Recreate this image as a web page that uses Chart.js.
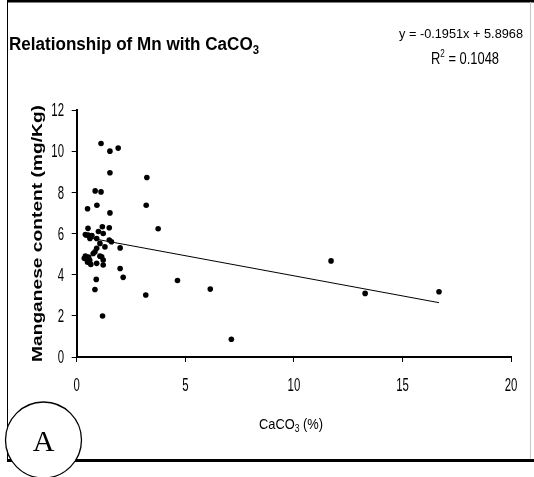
<!DOCTYPE html>
<html>
<head>
<meta charset="utf-8">
<script src="https://cdn.jsdelivr.net/npm/chart.js@4/dist/chart.umd.min.js"></script>
<style>
  html, body { margin: 0; padding: 0; background: #fff; }
  #wrap { position: relative; width: 534px; height: 477px; }
</style>
</head>
<body>
<div id="wrap"><canvas id="c"></canvas></div>
<script>
// ---- data ----
const mnX = [1.12, 1.53, 1.91, 1.53, 3.23, 0.85, 1.12, 0.50, 0.93, 3.20, 1.53, 3.75,
             4.64, 6.15, 7.12, 11.71, 13.28, 16.68, 3.18, 1.19, 0.84, 0.90, 2.14, 2.00, 2.00,
             0.52, 1.18, 1.50, 0.53, 0.61, 0.92, 1.22, 1.07, 1.30, 1.50, 1.60, 0.84, 0.76,
             0.92, 1.15, 1.22, 0.92, 1.07, 1.22, 0.40, 0.45, 0.50, 0.55, 0.60, 0.65, 0.35,
             0.40, 0.70, 1.00];
const mnY = [10.37, 10.00, 10.15, 8.95, 8.72, 8.07, 8.02, 7.20, 7.37, 7.37, 7.00, 6.23,
             3.72, 3.30, 0.86, 4.67, 3.09, 3.17, 3.01, 1.99, 3.28, 3.77, 3.87, 4.30, 5.30,
             6.25, 6.33, 6.28, 5.92, 5.76, 5.76, 6.00, 5.52, 5.35, 5.68, 5.60, 5.11, 5.03,
             5.28, 4.87, 4.71, 4.55, 4.90, 4.47, 4.90, 4.75, 4.60, 4.85, 4.70, 4.50, 4.80,
             5.95, 5.90, 6.10];
const trendX = [0.35, 16.68];
const trendY = [5.83, 2.64];
const xTicks = [0, 5, 10, 15, 20];
const yTicks = [0, 2, 4, 6, 8, 10, 12];
const titleMain = "Relationship of Mn with CaCO";
const titleSub = "3";
const eqLine1 = "y = -0.1951x + 5.8968";
const eqLine2a = "R";
const eqLine2sup = "2";
const eqLine2b = " = 0.1048";
const yTitle = "Manganese content (mg/Kg)";
const xTitleMain = "CaCO";
const xTitleSub = "3";
const xTitleRest = " (%)";
const panelLabel = "A";

const points = mnX.map((x, i) => ({ x: x, y: mnY[i] }));
const trend = trendX.map((x, i) => ({ x: x, y: trendY[i] }));

const SANS = '"Liberation Sans", Arial, sans-serif';

function fitText(ctx, parts, x, y, targetW, align) {
  let w = 0;
  parts.forEach(p => { ctx.font = p.font; p.w = ctx.measureText(p.t).width; w += p.w; });
  const s = targetW / w;
  ctx.save();
  let x0 = align === 'center' ? x - targetW / 2 : (align === 'right' ? x - targetW : x);
  ctx.translate(x0, y);
  ctx.scale(s, 1);
  let cx = 0;
  ctx.textAlign = 'left';
  ctx.textBaseline = 'alphabetic';
  parts.forEach(p => { ctx.font = p.font; ctx.fillText(p.t, cx, p.dy || 0); cx += p.w; });
  ctx.restore();
}

// narrow text drawn with a horizontal squeeze
function narrowText(ctx, t, x, y, align, squeeze) {
  ctx.save();
  ctx.font = '19px ' + SANS;
  const w = ctx.measureText(t).width * squeeze;
  let x0 = align === 'center' ? x - w / 2 : (align === 'right' ? x - w : x);
  ctx.translate(x0, y);
  ctx.scale(squeeze, 1);
  ctx.textAlign = 'left';
  ctx.textBaseline = 'middle';
  ctx.fillText(t, 0, 0);
  ctx.restore();
}

const decor = {
  id: 'decor',
  afterDraw(chart) {
    const ctx = chart.ctx;
    ctx.save();
    ctx.fillStyle = '#000';
    // tick labels, positioned by the chart's own scales
    const xs = chart.scales.x, ys = chart.scales.y;
    xs.ticks.forEach(t => narrowText(ctx, String(t.value), xs.getPixelForValue(t.value), 386, 'center', 0.6));
    ys.ticks.forEach(t => narrowText(ctx, String(t.value), 64, ys.getPixelForValue(t.value) + 1, 'right', 0.6));
    // frame
    ctx.strokeStyle = '#000';
    ctx.lineWidth = 2.5; ctx.beginPath(); ctx.moveTo(7, 1.2); ctx.lineTo(534, 1.2); ctx.stroke();
    ctx.lineWidth = 1; ctx.beginPath(); ctx.moveTo(7.5, 0); ctx.lineTo(7.5, 461); ctx.stroke();
    ctx.strokeStyle = '#c8c8c8'; ctx.beginPath(); ctx.moveTo(530.5, 2); ctx.lineTo(530.5, 459); ctx.stroke();
    ctx.strokeStyle = '#000'; ctx.lineWidth = 3; ctx.beginPath(); ctx.moveTo(7, 460.5); ctx.lineTo(534, 460.5); ctx.stroke();
    // title
    fitText(ctx, [{t: titleMain, font: 'bold 18px ' + SANS}, {t: titleSub, font: 'bold 12px ' + SANS, dy: 4}], 9, 50, 250, 'left');
    // equation
    fitText(ctx, [{t: eqLine1, font: '13px ' + SANS}], 461, 38, 124, 'center');
    fitText(ctx, [{t: eqLine2a, font: '16px ' + SANS}, {t: eqLine2sup, font: '10px ' + SANS, dy: -7}, {t: eqLine2b, font: '16px ' + SANS}], 465, 64, 68, 'center');
    // y title
    ctx.save();
    ctx.translate(42, 233.5);
    ctx.rotate(-Math.PI / 2);
    fitText(ctx, [{t: yTitle, font: 'bold 15px ' + SANS}], 0, 0, 257, 'center');
    ctx.restore();
    // x title
    fitText(ctx, [{t: xTitleMain, font: '15px ' + SANS}, {t: xTitleSub, font: '10px ' + SANS, dy: 3}, {t: xTitleRest, font: '15px ' + SANS}], 291, 429, 64, 'center');
    // panel label circle
    ctx.beginPath();
    ctx.arc(43.5, 440, 38, 0, Math.PI * 2);
    ctx.fillStyle = '#fff'; ctx.fill();
    ctx.strokeStyle = '#000'; ctx.lineWidth = 1.3; ctx.stroke();
    ctx.fillStyle = '#000';
    ctx.font = '30px "Liberation Serif", "Times New Roman", serif';
    ctx.textAlign = 'center'; ctx.textBaseline = 'alphabetic';
    ctx.fillText(panelLabel, 43.5, 451);
    ctx.restore();
  }
};

new Chart(document.getElementById('c'), {
  type: 'scatter',
  data: {
    datasets: [
      { label: 'Mn', data: points, backgroundColor: '#000', borderColor: '#000',
        pointRadius: 2.8, pointBorderWidth: 0, pointStyle: 'circle' },
      { label: 'Trend', type: 'line', data: trend, borderColor: '#000', borderWidth: 1,
        pointRadius: 0, fill: false, showLine: true }
    ]
  },
  options: {
    responsive: true,
    maintainAspectRatio: false,
    animation: false,
    events: [],
    layout: { padding: { left: 0, top: 110, right: 21.7, bottom: 0 } },
    plugins: { legend: { display: false }, tooltip: { enabled: false }, title: { display: false } },
    scales: {
      x: {
        type: 'linear', min: 0, max: 20,
        afterBuildTicks(axis) { axis.ticks = xTicks.map(v => ({ value: v })); },
        afterFit(scale) { scale.height = 120; },
        ticks: { color: 'rgba(0,0,0,0)', padding: 14, font: { size: 16 } },
        grid: { drawOnChartArea: false, drawTicks: true, tickLength: 5, color: '#000', lineWidth: 1 },
        border: { color: '#000', width: 2 }
      },
      y: {
        type: 'linear', min: 0, max: 12,
        afterBuildTicks(axis) { axis.ticks = yTicks.map(v => ({ value: v })); },
        afterFit(scale) { scale.width = 76.7; },
        ticks: { color: 'rgba(0,0,0,0)', padding: 8, font: { size: 16 } },
        grid: { drawOnChartArea: false, drawTicks: true, tickLength: 5, color: '#000', lineWidth: 1 },
        border: { color: '#000', width: 2 }
      }
    }
  },
  plugins: [decor]
});
</script>
</body>
</html>
